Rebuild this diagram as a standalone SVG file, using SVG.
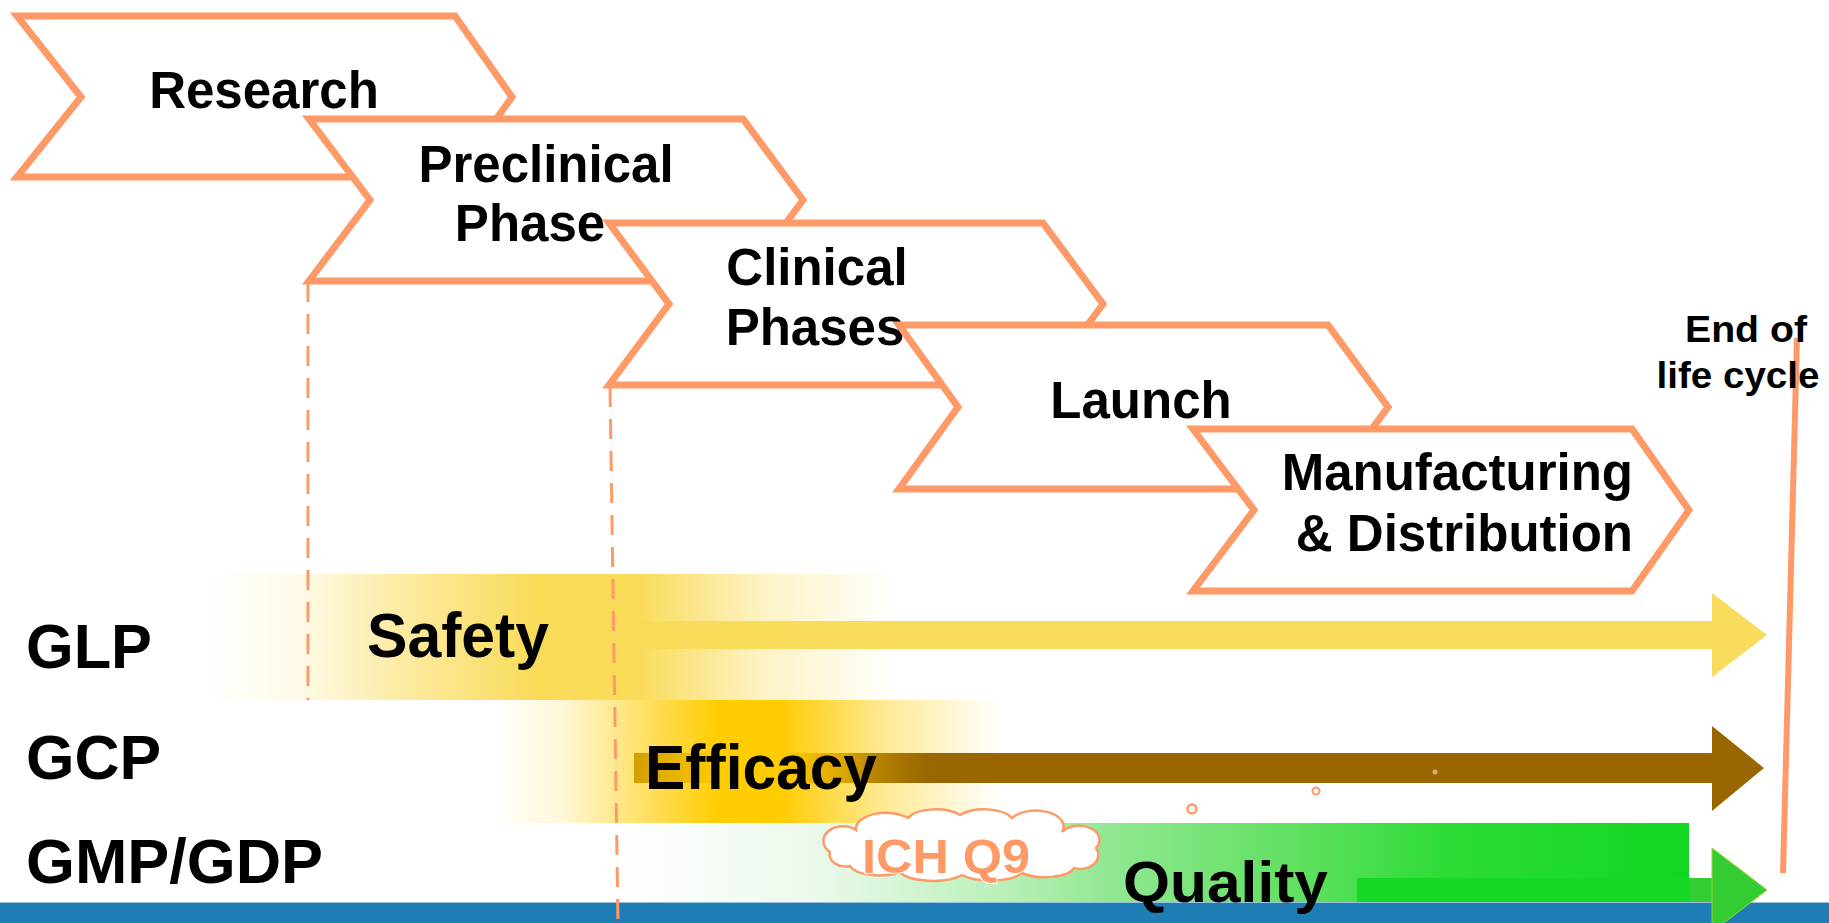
<svg xmlns="http://www.w3.org/2000/svg" width="1829" height="923" viewBox="0 0 1829 923">
  <defs>
    <style>
      .chev { fill: #ffffff; stroke: #FE9A68; stroke-width: 7; stroke-linejoin: miter; }
      .lbl { font-family: "Liberation Sans", Arial, sans-serif; font-weight: bold; fill: #000000; }
      .step { font-size: 51px; text-anchor: middle; }
      .band { font-size: 63px; }
      .guide { stroke: #FE9A68; stroke-width: 3; stroke-dasharray: 20 12; fill: none; }
    </style>
    <linearGradient id="gSafety" gradientUnits="userSpaceOnUse" x1="205" y1="0" x2="900" y2="0">
      <stop offset="0" stop-color="#F9DB58" stop-opacity="0"/>
      <stop offset="0.14" stop-color="#F9DB58" stop-opacity="0.15"/>
      <stop offset="0.28" stop-color="#F9DB58" stop-opacity="0.55"/>
      <stop offset="0.48" stop-color="#F9DB58" stop-opacity="1"/>
      <stop offset="0.62" stop-color="#F9DB58" stop-opacity="1"/>
      <stop offset="0.80" stop-color="#F9DB58" stop-opacity="0.35"/>
      <stop offset="1" stop-color="#F9DB58" stop-opacity="0"/>
    </linearGradient>
    <linearGradient id="gEfficacy" gradientUnits="userSpaceOnUse" x1="490" y1="0" x2="1000" y2="0">
      <stop offset="0" stop-color="#FFCC00" stop-opacity="0"/>
      <stop offset="0.14" stop-color="#FFCC00" stop-opacity="0.15"/>
      <stop offset="0.30" stop-color="#FFCC00" stop-opacity="0.6"/>
      <stop offset="0.45" stop-color="#FFCC00" stop-opacity="1"/>
      <stop offset="0.57" stop-color="#FFCC00" stop-opacity="1"/>
      <stop offset="0.76" stop-color="#FFCC00" stop-opacity="0.45"/>
      <stop offset="1" stop-color="#FFCC00" stop-opacity="0"/>
    </linearGradient>
    <linearGradient id="gQuality" gradientUnits="userSpaceOnUse" x1="618" y1="0" x2="1689" y2="0">
      <stop offset="0" stop-color="#FFFFFF"/>
      <stop offset="0.19" stop-color="#EAF9EA"/>
      <stop offset="0.36" stop-color="#B9F0B9"/>
      <stop offset="0.45" stop-color="#94E894"/>
      <stop offset="0.64" stop-color="#5EE05E"/>
      <stop offset="0.77" stop-color="#2EDC38"/>
      <stop offset="1" stop-color="#11D622"/>
    </linearGradient>
    <linearGradient id="gBrownIn" gradientUnits="userSpaceOnUse" x1="845" y1="0" x2="935" y2="0">
      <stop offset="0" stop-color="#996600" stop-opacity="0"/>
      <stop offset="1" stop-color="#996600" stop-opacity="1"/>
    </linearGradient>
  </defs>

  <rect x="0" y="0" width="1829" height="923" fill="#ffffff"/>

  <!-- footer bar -->
  <rect x="0" y="902" width="1829" height="21" fill="#1F7DB5"/>
  <line x1="0" y1="902.5" x2="1829" y2="902.5" stroke="#9CC3DD" stroke-width="1"/>

  <g id="connectors">
    <!-- GLP arrow -->
    <rect x="638" y="621" width="1075" height="28" fill="#F9DC5C"/>
    <polygon points="1712,593 1767,635 1712,677" fill="#F9DC5C"/>
    <!-- GCP arrow (its tail is washed over by the efficacy band) -->
    <rect x="634" y="753" width="1079" height="30" fill="#996600"/>
    <polygon points="1712,726 1764,768 1712,811" fill="#996600"/>
    <!-- end of life cycle marker -->
    <line x1="1797" y1="338" x2="1783" y2="873" stroke="#FE9A68" stroke-width="6"/>
  </g>

  <!-- soft colour bands behind the regulation labels -->
  <g id="bands">
    <rect x="205" y="574" width="695" height="126" fill="url(#gSafety)"/>
    <rect x="490" y="700" width="510" height="123" fill="url(#gEfficacy)"/>
    <rect x="618" y="823" width="1071" height="79" fill="url(#gQuality)"/>
  </g>

  <g id="connectors-front">
    <!-- GCP shaft emerging from the efficacy band -->
    <rect x="845" y="753" width="160" height="30" fill="url(#gBrownIn)"/>
    <!-- phase boundary guides -->
    <line class="guide" x1="308" y1="282" x2="308" y2="700"/>
    <line class="guide" x1="610" y1="387" x2="618" y2="923"/>
    <!-- GMP/GDP arrow -->
    <rect x="1357" y="878" width="332" height="24" fill="#14D824"/>
    <rect x="1689" y="878" width="24" height="24" fill="#33CC33"/>
    <polygon points="1712,848 1767,890 1712,932" fill="#33CC33" stroke="#9BD12A" stroke-width="1"/>
  </g>

  <!-- process steps -->
  <g id="research">
    <polygon class="chev" points="17,16 455,16 512,97 455,177 17,177 81,97"/>
    <text class="lbl step" x="264" y="108">Research</text>
  </g>
  <g id="preclinical">
    <polygon class="chev" points="309,119 743,119 803,200 743,281 309,281 370,200"/>
    <text class="lbl step" x="546" y="182">Preclinical</text>
    <text class="lbl step" x="530" y="241">Phase</text>
  </g>
  <g id="clinical">
    <polygon class="chev" points="609,223 1043,223 1103,304 1043,385 609,385 669,304"/>
    <text class="lbl step" x="817" y="285">Clinical</text>
    <text class="lbl step" x="815" y="345">Phases</text>
  </g>
  <g id="launch">
    <polygon class="chev" points="899,325 1328,325 1388,407 1328,489 899,489 958,407"/>
    <text class="lbl step" x="1141" y="418">Launch</text>
  </g>
  <g id="manufacturing">
    <polygon class="chev" points="1193,429 1632,429 1689,510 1632,591 1193,591 1254,510"/>
    <text class="lbl step" x="1633" y="490" style="text-anchor:end">Manufacturing</text>
    <text class="lbl step" x="1633" y="551" style="text-anchor:end">&amp; Distribution</text>
  </g>

  <g id="end-of-life">
    <text class="lbl" x="1746" y="342" font-size="36" text-anchor="middle" textLength="122" lengthAdjust="spacingAndGlyphs">End of</text>
    <text class="lbl" x="1738" y="388" font-size="36" text-anchor="middle" textLength="163" lengthAdjust="spacingAndGlyphs">life cycle</text>
  </g>

  <!-- regulation rows -->
  <g id="glp">
    <text class="lbl band" x="26" y="668" textLength="126" lengthAdjust="spacingAndGlyphs">GLP</text>
    <text class="lbl band" x="367" y="657" font-size="62" textLength="182" lengthAdjust="spacingAndGlyphs">Safety</text>
  </g>
  <g id="gcp">
    <text class="lbl band" x="26" y="779" textLength="135" lengthAdjust="spacingAndGlyphs">GCP</text>
    <text class="lbl band" x="645" y="789" font-size="62" textLength="232" lengthAdjust="spacingAndGlyphs">Efficacy</text>
  </g>
  <g id="gmp">
    <text class="lbl band" x="26" y="883" textLength="297" lengthAdjust="spacingAndGlyphs">GMP/GDP</text>
    <text class="lbl" x="1123" y="902" font-size="57" textLength="205" lengthAdjust="spacingAndGlyphs">Quality</text>
  </g>

  <!-- ICH Q9 callout cloud with trailing bubbles -->
  <g id="ich-q9">
    <circle cx="1435" cy="772" r="2.5" fill="#F0A080"/>
    <circle cx="1316" cy="791" r="3.5" fill="#ffffff" stroke="#FE9A68" stroke-width="2"/>
    <circle cx="1192" cy="809" r="4.5" fill="#ffffff" stroke="#FE9A68" stroke-width="2.5"/>
    <path d="M 830,852 a 16,12 0 0 1 26,-22 a 30,16 0 0 1 52,-12 a 30,14 0 0 1 52,-3 a 30,14 0 0 1 52,3 a 28,16 0 0 1 50,14 a 20,14 0 0 1 34,16 a 18,14 0 0 1 -22,20 a 30,12 0 0 1 -52,5 a 34,12 0 0 1 -60,2 a 34,12 0 0 1 -62,-3 a 30,12 0 0 1 -50,-6 a 16,12 0 0 1 -20,-14 Z" fill="#ffffff" stroke="#FE9A68" stroke-width="2.5"/>
    <text x="946" y="873" font-family="Liberation Sans, Arial, sans-serif" font-weight="bold" font-size="49" fill="#FE9A68" stroke="#ffffff" stroke-width="2" paint-order="stroke" text-anchor="middle" textLength="168" lengthAdjust="spacingAndGlyphs">ICH Q9</text>
  </g>
</svg>
